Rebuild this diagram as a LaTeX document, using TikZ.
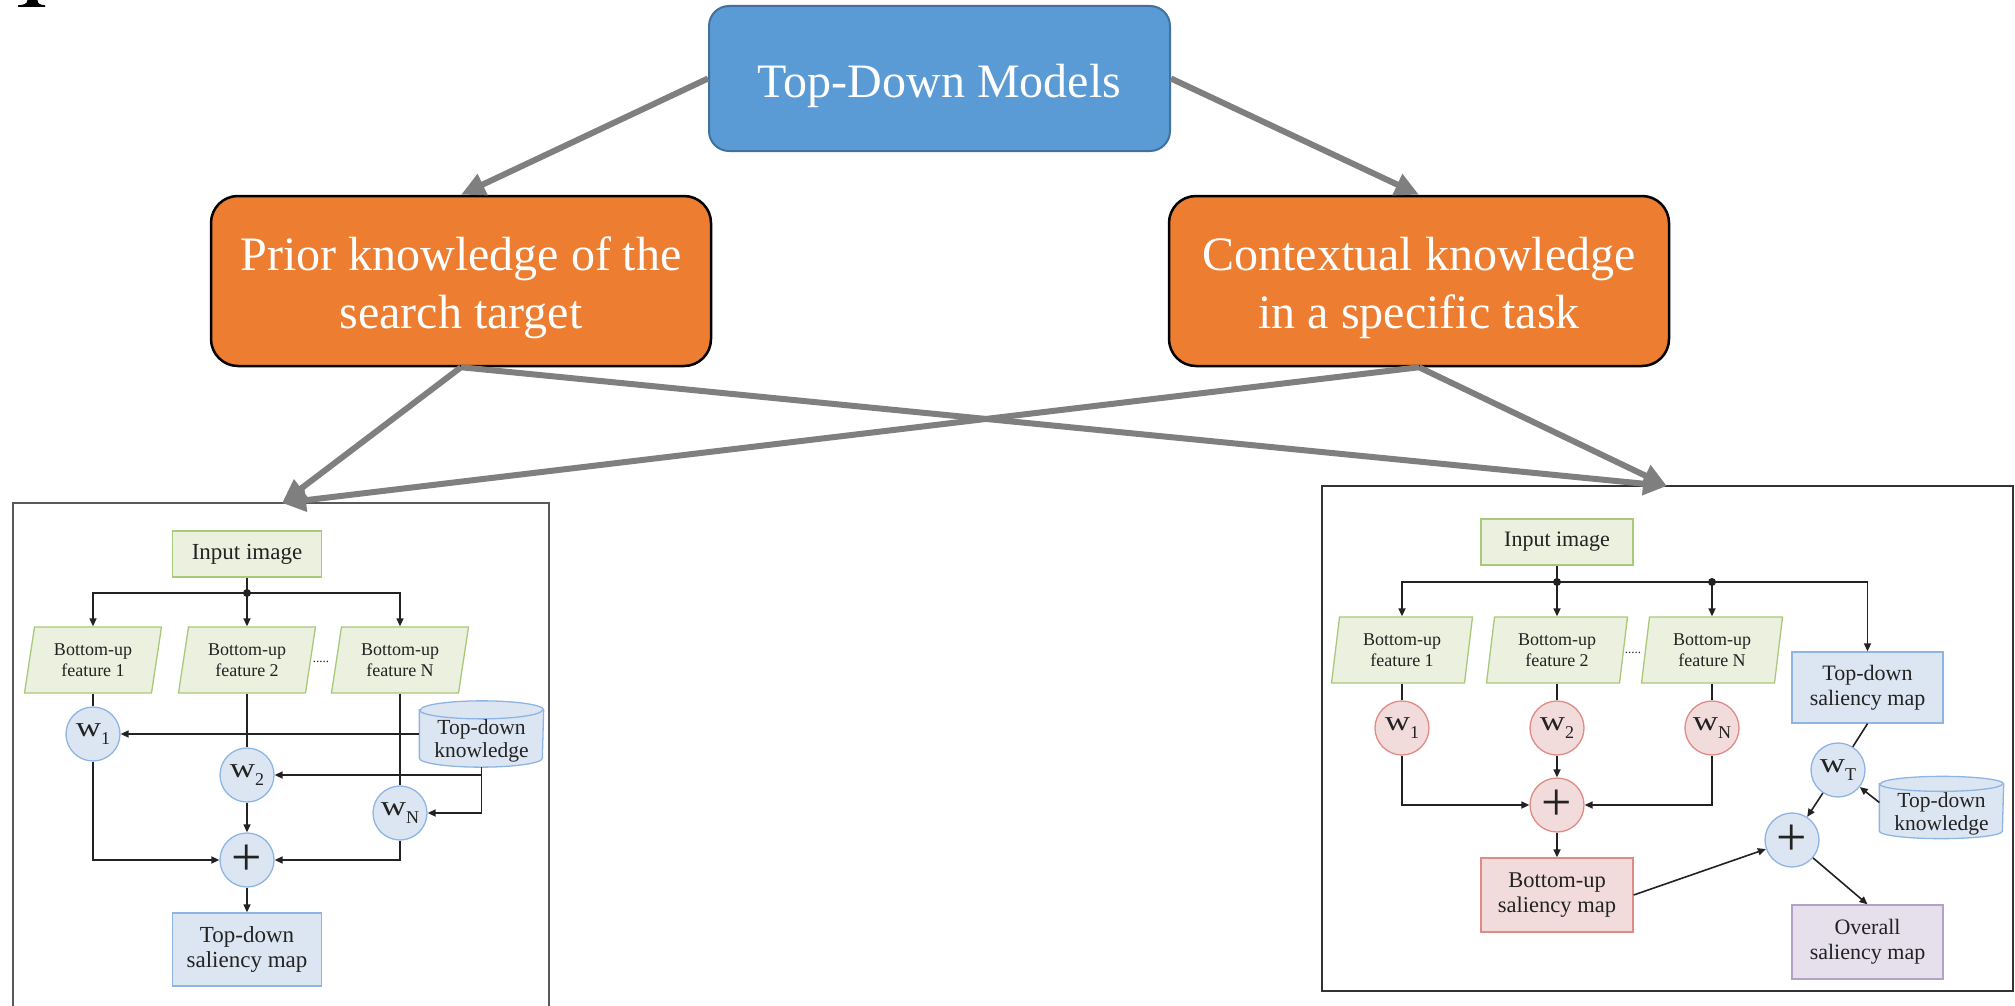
\documentclass[tikz,border=0pt]{standalone}
\usepackage{fontspec}
\usepackage{graphicx}
\setmainfont{Liberation Serif}
\usetikzlibrary{arrows.meta,calc}
\pgfdeclarelayer{bg}
\pgfsetlayers{bg,main}
\definecolor{tdblue}{HTML}{5B9BD5}
\definecolor{tdblueb}{HTML}{41719C}
\definecolor{orng}{HTML}{ED7D31}
\definecolor{garrow}{HTML}{7F7F7F}
\definecolor{gfill}{HTML}{EBF1DE}
\definecolor{gline}{HTML}{A9C97A}
\definecolor{bfill}{HTML}{DCE6F2}
\definecolor{bline}{HTML}{8EB4E3}
\definecolor{rfill}{HTML}{F2DCDB}
\definecolor{rline}{HTML}{E08A85}
\definecolor{pfill}{HTML}{E5E0EC}
\definecolor{pline}{HTML}{B3A2C7}
\definecolor{ink}{HTML}{222222}
\newcommand\wl[1]{\fontsize{28}{28}\selectfont\scalebox{1.25}[1]{w}\raisebox{-8pt}{\fontsize{18}{18}\selectfont #1}}
\newcommand\pargram[3]{%
  \path[gpar] ($(#1.center)+({-#2/2+#3/2},-33)$) -- ($(#1.center)+({#2/2+#3/2},-33)$)
    -- ($(#1.center)+({#2/2-#3/2},33)$) -- ($(#1.center)+({-#2/2-#3/2},33)$) -- cycle;}
\newcommand\cylshape[3]{%
  \path[cyl] ($(#1.north west)+(0,#3)$) -- ($(#1.south west)+(0,-#3)$)
    arc[start angle=180,end angle=0,x radius=#2,y radius=#3]
    -- ($(#1.north east)+(0,#3)$)
    arc[start angle=0,end angle=-180,x radius=#2,y radius=#3] -- cycle;
  \draw[cyl,fill=none] ($(#1.north west)+(0,#3)$) arc[start angle=180,end angle=0,x radius=#2,y radius=#3];}
\tikzset{
  topbox/.style={rounded corners=20pt, fill=tdblue, draw=tdblueb, line width=2pt,
    minimum width=461pt, minimum height=145pt, inner sep=0pt, text=white,
    font=\fontsize{48}{58}\selectfont, text height=49pt},
  catbox/.style={rounded corners=27pt, fill=orng, draw=black, line width=2.5pt,
    minimum width=500pt, minimum height=170pt, inner sep=0pt, text=white, align=center,
    font=\fontsize{48}{58}\selectfont, text height=104.5pt},
  garr/.style={draw=garrow, line width=6pt, -{Triangle[length=24pt,width=22pt]}},
  pn/.style={inner sep=0pt, align=center, text=ink, line width=1.3pt},
  gbx/.style={pn, fill=gfill, draw=gline},
  bbx/.style={pn, fill=bfill, draw=bline},
  rbx/.style={pn, fill=rfill, draw=rline},
  pbx/.style={pn, fill=pfill, draw=pline},
  feat/.style={pn, minimum width=110pt, minimum height=66pt, font=\fontsize{18}{21}\selectfont},
  cyln/.style={pn, font=\fontsize{21.5}{23}\selectfont, text height=51pt},
  bc/.style={circle, minimum size=54pt, inner sep=0pt, line width=1.3pt, text=ink, fill=bfill, draw=bline},
  rc/.style={circle, minimum size=54pt, inner sep=0pt, line width=1.3pt, text=ink, fill=rfill, draw=rline},
  plus/.style={font=\fontsize{54}{54}\selectfont},
  dotsn/.style={inner sep=0pt, text=ink, font=\fontsize{13}{13}\selectfont},
  arr/.style={draw=ink, line width=1.6pt, -{Triangle[length=8pt,width=7pt]}},
  ln/.style={draw=ink, line width=1.6pt},
  gpar/.style={fill=gfill, draw=gline, line width=1.3pt},
  cyl/.style={fill=bfill, draw=bline, line width=1.3pt},
  lpanel/.style={draw=black!65, line width=1.5pt},
  rpanel/.style={draw=black!80, line width=1.5pt}
}
\begin{document}
\begin{tikzpicture}[x=1pt,y=-1pt]
\useasboundingbox (0,0) rectangle (2015,1006);
% cut-off glyph at the top left
\fill[black] (18,7) -- (45,7) -- (45,5.3) .. controls (40,5) and (37.5,3.5) .. (37.5,0)
  -- (27.5,0) .. controls (27.5,3.5) and (24,5) .. (18,5.3) -- cycle;

% top level
\node[topbox] (tdm) at (939.5,78.5) {Top-Down Models};
\node[catbox] (prior) at (461,281) {Prior knowledge of the\\search target};
\node[catbox] (ctx) at (1419,281) {Contextual knowledge\\in a specific task};

% panels
\draw[lpanel] (13,1006) -- (13,503) -- (549,503) -- (549,1006);
\draw[rpanel] (1322,486) rectangle (2013,991);
\coordinate (lt) at (282,503);
\coordinate (rt) at (1667,486);

\draw[garr] (tdm.west) -- (prior.north);
\draw[garr] (tdm.east) -- (ctx.north);
\draw[garr] (prior.south) -- (lt);
\draw[garr] (prior.south) -- (rt);
\draw[garr] (ctx.south) -- (lt);
\draw[garr] (ctx.south) -- (rt);

% ---------------- left panel ----------------
\node[gbx, minimum width=149pt, minimum height=46pt, font=\fontsize{23}{26}\selectfont] (in1) at (247,554) {Input image};
\coordinate (j1) at (247,593);
\node[feat] (f1) at (93,660) {Bottom-up\\feature 1};
\node[feat] (f2) at (247,660) {Bottom-up\\feature 2};
\node[feat] (fN) at (400,660) {Bottom-up\\feature N};
\node[dotsn] (d1) at (321,662) {.....};
\node[cyln, minimum width=123pt, minimum height=65pt] (k1) at (481.5,734) {Top-down\\knowledge};
\node[bc] (w1) at (93,734) {\wl{1}};
\node[bc] (w2) at (247,775) {\wl{2}};
\node[bc] (wN) at (400,813) {\wl{N}};
\node[bc, plus] (p1) at (247,860) {+};
\node[bbx, minimum width=149pt, minimum height=73pt, font=\fontsize{23}{25}\selectfont] (tds1) at (247,949.5) {Top-down\\saliency map};
\begin{pgfonlayer}{bg}
  \pargram{f1}{127}{10}
  \pargram{f2}{127}{10}
  \pargram{fN}{127}{10}
  \cylshape{k1}{61.5}{9}
\end{pgfonlayer}
\draw[ln] (in1.south) -- (j1);
\fill[ink] (j1) circle[radius=4];
\draw[arr] (j1) -| (f1.north);
\draw[arr] (j1) -- (f2.north);
\draw[arr] (j1) -| (fN.north);
\draw[ln] (f1.south) -- (w1.north);
\draw[ln] (f2.south) -- (w2.north);
\draw[ln] (fN.south) -- (wN.north);
\draw[arr] (k1.west) -- (w1.east);
\draw[arr] (k1.south) |- (w2.east);
\draw[arr] (k1.south) |- (wN.east);
\draw[arr] (w1.south) |- (p1.west);
\draw[arr] (w2.south) -- (p1.north);
\draw[arr] (wN.south) |- (p1.east);
\draw[arr] (p1.south) -- (tds1.north);

% ---------------- right panel ----------------
\node[gbx, minimum width=152pt, minimum height=46pt, font=\fontsize{22}{25}\selectfont] (in2) at (1557,542) {Input image};
\coordinate (j2a) at (1557,582);
\coordinate (j2b) at (1712,582);
\node[feat] (f1r) at (1402,650) {Bottom-up\\feature 1};
\node[feat] (f2r) at (1557,650) {Bottom-up\\feature 2};
\node[feat] (fNr) at (1712,650) {Bottom-up\\feature N};
\node[dotsn] (d2) at (1633,653) {.....};
\node[rc] (w1r) at (1402,728) {\wl{1}};
\node[rc] (w2r) at (1557,728) {\wl{2}};
\node[rc] (wNr) at (1712,728) {\wl{N}};
\node[rc, plus] (p2) at (1557,805) {+};
\node[rbx, minimum width=152pt, minimum height=74pt, font=\fontsize{22.5}{25}\selectfont] (bus) at (1557,895) {Bottom-up\\saliency map};
\node[bbx, minimum width=151pt, minimum height=71pt, font=\fontsize{22}{25}\selectfont] (tds2) at (1867.5,687.5) {Top-down\\saliency map};
\node[bc] (wT) at (1838,770) {\wl{T}};
\node[cyln, minimum width=123pt, minimum height=61pt] (k2) at (1941.5,807.5) {Top-down\\knowledge};
\node[bc, plus] (p3) at (1792,840) {+};
\node[pbx, minimum width=151pt, minimum height=74pt, font=\fontsize{22}{25}\selectfont] (ov) at (1867.5,942) {Overall\\saliency map};
\begin{pgfonlayer}{bg}
  \pargram{f1r}{133}{8}
  \pargram{f2r}{133}{8}
  \pargram{fNr}{133}{8}
  \cylshape{k2}{61.5}{7.5}
\end{pgfonlayer}
\draw[ln] (in2.south) -- (j2a);
\fill[ink] (j2a) circle[radius=4];
\fill[ink] (j2b) circle[radius=4];
\draw[arr] (j2a) -| (f1r.north);
\draw[arr] (j2a) -- (f2r.north);
\draw[ln] (j2a) -- (j2b);
\draw[arr] (j2b) -- (fNr.north);
\draw[arr] (j2b) -| (tds2.north);
\draw[ln] (f1r.south) -- (w1r.north);
\draw[ln] (f2r.south) -- (w2r.north);
\draw[ln] (fNr.south) -- (wNr.north);
\draw[arr] (w1r.south) |- (p2.west);
\draw[arr] (w2r.south) -- (p2.north);
\draw[arr] (wNr.south) |- (p2.east);
\draw[arr] (p2.south) -- (bus.north);
\draw[ln] (tds2.south) -- (wT);
\coordinate (k2a) at ($(k2.west)+(0,-5)$);
\draw[arr] (k2a) -- (wT);
\draw[arr] (wT) -- (p3);
\draw[arr] (bus.east) -- (p3);
\draw[arr] (p3) -- (ov.north);
\end{tikzpicture}
\end{document}
